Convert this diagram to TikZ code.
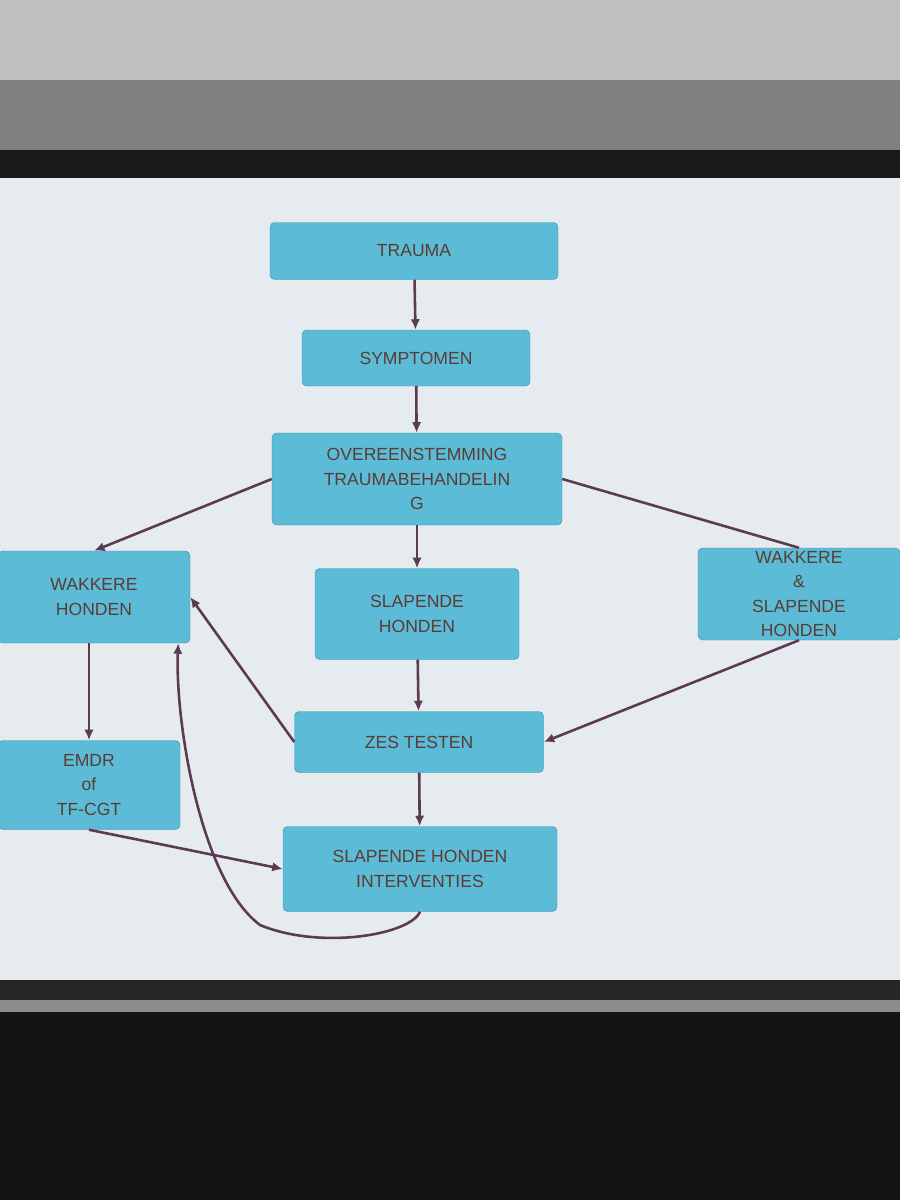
\documentclass[tikz,border=0pt]{standalone}
\usepackage{fontspec}
\setmainfont{Liberation Sans}
\usetikzlibrary{arrows.meta,calc}
\definecolor{boxf}{HTML}{5CBCD8}
\definecolor{boxd}{HTML}{3C8FB0}
\definecolor{txt}{HTML}{5A3C34}
\definecolor{arr}{HTML}{5C3A52}
\definecolor{slide}{HTML}{E6EBF0}
\begin{document}
\begin{tikzpicture}[x=0.03cm,y=-0.03cm,
  box/.style={draw=boxd,fill=boxf,rounded corners=4pt,text=txt,align=center,font=\fontsize{15}{21}\selectfont,inner sep=0pt},
  ar/.style={draw=arr,line width=2.2pt,-{Latex[length=9pt,width=8pt]}}]
\useasboundingbox (0,0) rectangle (900,1200);
\fill[black!25] (0,0) rectangle (900,80);
\fill[black!50] (0,80) rectangle (900,150);
\fill[black!90] (0,150) rectangle (900,178);
\fill[slide] (0,178) rectangle (900,980);
\fill[black!85] (0,980) rectangle (900,1000);
\fill[black!45] (0,1000) rectangle (900,1012);
\fill[black!92] (0,1012) rectangle (900,1200);
\node[box,minimum width=288*0.03cm,minimum height=57*0.03cm] (tr) at (414,251) {TRAUMA};
\node[box,minimum width=228*0.03cm,minimum height=56*0.03cm] (sy) at (416,358) {SYMPTOMEN};
\node[box,minimum width=290*0.03cm,minimum height=92*0.03cm] (ov) at (417,479) {OVEREENSTEMMING\\TRAUMABEHANDELIN\\G};
\node[box,minimum width=192*0.03cm,minimum height=92*0.03cm] (wh) at (94,597) {WAKKERE\\HONDEN};
\node[box,minimum width=204*0.03cm,minimum height=91*0.03cm] (sh) at (417,614) {SLAPENDE\\HONDEN};
\node[box,minimum width=202*0.03cm,minimum height=92*0.03cm] (ws) at (799,594) {WAKKERE\\\&\\SLAPENDE\\HONDEN};
\node[box,minimum width=249*0.03cm,minimum height=61*0.03cm] (zt) at (419,742) {ZES TESTEN};
\node[box,minimum width=182*0.03cm,minimum height=89*0.03cm] (em) at (89,785) {EMDR\\of\\TF-CGT};
\node[box,minimum width=274*0.03cm,minimum height=85*0.03cm] (in) at (420,869) {SLAPENDE HONDEN\\INTERVENTIES};
\coordinate (wt) at ($(wh.south east)+(-12,0)$);
\draw[ar] (tr) -- (sy);
\draw[ar] (sy) -- (ov);
\draw[ar] (ov.west) -- (wh.north);
\draw[draw=arr,line width=2.2pt] (ov.east) -- (ws.north);
\draw[ar] (ov) -- (sh);
\draw[ar] (sh) -- (zt);
\draw[ar] (ws.south) -- (zt.east);
\draw[ar] (zt.west) -- (wh.east);
\draw[ar] (wh.south -| em.north) -- (em.north);
\draw[ar] (em.south) -- (in.west);
\draw[ar] (zt) -- (in);
\draw[ar] (in.south) .. controls (410,935) and (320,950) .. (260,925) .. controls (200,880) and (175,720) .. (wt);
\end{tikzpicture}
\end{document}
